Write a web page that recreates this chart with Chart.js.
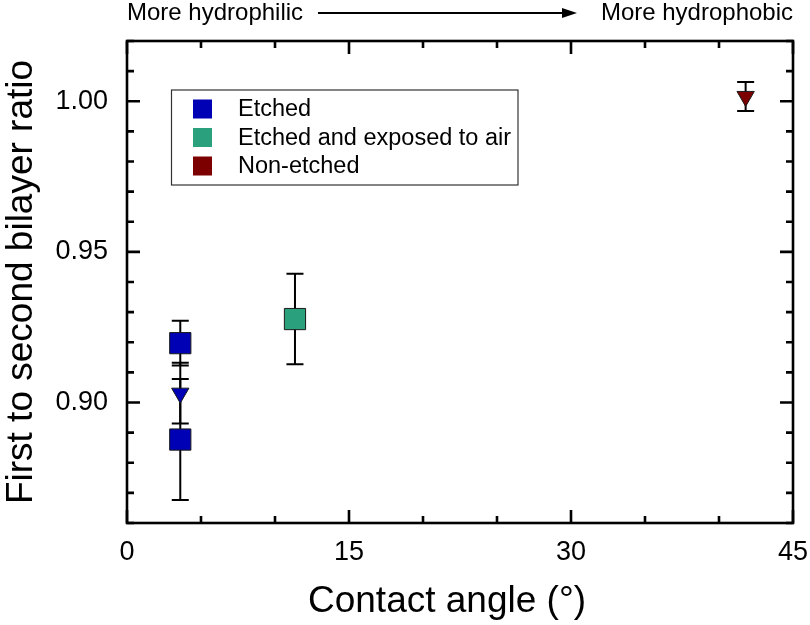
<!DOCTYPE html>
<html>
<head>
<meta charset="utf-8">
<script src="https://cdn.jsdelivr.net/npm/chart.js@4.4.0/dist/chart.umd.min.js"></script>
<style>
body{ margin:0; background:#fff; }
canvas{ display:block; }
</style>
</head>
<body>
<canvas id="ratioChart" width="810" height="625"></canvas>
<script>
// values
const etchedX = [3.6, 3.6];
const etchedY = [0.9197, 0.8877];
const etchedErr = [0.0074, 0.0201];

const etchedTriX = [3.6];
const etchedTriY = [0.9031];
const etchedTriErr = [0.0101];

const airX = [11.35];
const airY = [0.9277];
const airErr = [0.0150];

const nonEtchedX = [41.8];
const nonEtchedY = [1.0016];
const nonEtchedErr = [0.0048];

const legendLabels = ["Etched", "Etched and exposed to air", "Non-etched"];
const xTicks = [0, 15, 30, 45];
const yTicks = [0.90, 0.95, 1.00];

const BLUE = "#0000b4";
const GREEN = "#2ba07c";
const RED = "#7c0000";
const FONT = "'Liberation Sans', Arial, Helvetica, sans-serif";

function points(xs, ys){
    return xs.map((x, i) => ({x: x, y: ys[i]}));
}

const errorBars = {
    id: "errorBars",
    beforeDatasetsDraw(chart){
        const ctx = chart.ctx;
        const xs = chart.scales.x;
        const ys = chart.scales.y;
        ctx.save();
        ctx.strokeStyle = "#000";
        ctx.lineWidth = 2;
        chart.data.datasets.forEach(ds => {
            ds.data.forEach((p, i) => {
                const err = ds.errors[i];
                const px = xs.getPixelForValue(p.x);
                const top = ys.getPixelForValue(p.y + err);
                const bot = ys.getPixelForValue(p.y - err);
                ctx.beginPath();
                ctx.moveTo(px, top);
                ctx.lineTo(px, bot);
                ctx.moveTo(px - 8.5, top);
                ctx.lineTo(px + 8.5, top);
                ctx.moveTo(px - 8.5, bot);
                ctx.lineTo(px + 8.5, bot);
                ctx.stroke();
            });
        });
        ctx.restore();
    }
};

const frameAndTicks = {
    id: "frameAndTicks",
    afterDraw(chart){
        const ctx = chart.ctx;
        const a = chart.chartArea;
        const xs = chart.scales.x;
        const ys = chart.scales.y;
        ctx.save();
        ctx.strokeStyle = "#000";
        ctx.lineWidth = 2.6;

        ctx.beginPath();
        for(let v = xs.min; v <= xs.max + 1e-9; v += 5){
            const px = xs.getPixelForValue(v);
            const len = (Math.round(v) % 15 === 0) ? 13 : 7;
            ctx.moveTo(px, a.bottom);
            ctx.lineTo(px, a.bottom - len);
            ctx.moveTo(px, a.top);
            ctx.lineTo(px, a.top + len);
        }
        for(let k = 86; k <= 102; k++){
            const py = ys.getPixelForValue(k / 100);
            const len = (k % 5 === 0) ? 13 : 7;
            ctx.moveTo(a.left, py);
            ctx.lineTo(a.left + len, py);
            ctx.moveTo(a.right, py);
            ctx.lineTo(a.right - len, py);
        }
        ctx.stroke();

        ctx.strokeRect(a.left, a.top, a.right - a.left, a.bottom - a.top);

        ctx.fillStyle = "#000";

        // x axis title, sits a bit left of the plot centre in the original
        ctx.font = "37px " + FONT;
        ctx.textAlign = "center";
        ctx.textBaseline = "alphabetic";
        ctx.fillText("Contact angle (°)", 447, 612);

        // direction note above the plot
        ctx.font = "24px " + FONT;
        ctx.textAlign = "left";
        ctx.fillText("More hydrophilic", 127, 20);
        ctx.textAlign = "right";
        ctx.fillText("More hydrophobic", 793, 20);

        ctx.lineWidth = 2;
        ctx.beginPath();
        ctx.moveTo(318, 13);
        ctx.lineTo(565, 13);
        ctx.stroke();
        ctx.beginPath();
        ctx.moveTo(577, 13);
        ctx.lineTo(562, 8);
        ctx.lineTo(562, 18);
        ctx.closePath();
        ctx.fill();

        // legend
        ctx.lineWidth = 1.2;
        ctx.strokeStyle = "#333";
        ctx.strokeRect(171.5, 90, 346.5, 95);
        const colors = [BLUE, GREEN, RED];
        const rows = [109, 137.5, 166];
        ctx.font = "23.5px " + FONT;
        ctx.textAlign = "left";
        ctx.textBaseline = "middle";
        legendLabels.forEach((label, i) => {
            ctx.fillStyle = colors[i];
            ctx.fillRect(193, rows[i] - 9.5, 19, 19);
            ctx.fillStyle = "#000";
            ctx.fillText(label, 238, rows[i] + 1);
        });
        ctx.restore();
    }
};

const ctx = document.getElementById("ratioChart");

new Chart(ctx, {
    type: "scatter",
    data: {
        datasets: [
            {
                label: legendLabels[0],
                data: points(etchedX, etchedY),
                errors: etchedErr,
                pointStyle: "rect",
                pointRadius: 15,
                backgroundColor: BLUE,
                borderColor: "#1a1a1a",
                borderWidth: 1
            },
            {
                label: legendLabels[0],
                data: points(etchedTriX, etchedTriY),
                errors: etchedTriErr,
                pointStyle: "triangle",
                rotation: 180,
                pointRadius: 10,
                backgroundColor: BLUE,
                borderColor: "#1a1a1a",
                borderWidth: 1
            },
            {
                label: legendLabels[1],
                data: points(airX, airY),
                errors: airErr,
                pointStyle: "rect",
                pointRadius: 15,
                backgroundColor: GREEN,
                borderColor: "#1a1a1a",
                borderWidth: 1
            },
            {
                label: legendLabels[2],
                data: points(nonEtchedX, nonEtchedY),
                errors: nonEtchedErr,
                pointStyle: "triangle",
                rotation: 180,
                pointRadius: 10,
                backgroundColor: RED,
                borderColor: "#1a1a1a",
                borderWidth: 1
            }
        ]
    },
    options: {
        responsive: false,
        animation: false,
        devicePixelRatio: 1,
        layout: {
            padding: {top: 41, right: 17, left: 0, bottom: 0}
        },
        plugins: {
            legend: {display: false},
            tooltip: {enabled: false}
        },
        scales: {
            x: {
                type: "linear",
                min: 0,
                max: 45,
                afterBuildTicks: s => { s.ticks = xTicks.map(v => ({value: v})); },
                afterFit: s => {
                    s.height = 102;
                    s.paddingLeft = 0;
                    s.paddingRight = 0;
                },
                grid: {display: false, drawTicks: false},
                border: {display: false},
                ticks: {
                    color: "#000",
                    padding: 13,
                    maxRotation: 0,
                    font: {family: FONT, size: 27},
                    callback: v => v
                }
            },
            y: {
                type: "linear",
                min: 0.86,
                max: 1.02,
                afterBuildTicks: s => { s.ticks = yTicks.map(v => ({value: v})); },
                afterFit: s => {
                    s.width = 127;
                    s.paddingTop = 0;
                    s.paddingBottom = 0;
                },
                grid: {display: false, drawTicks: false},
                border: {display: false},
                ticks: {
                    color: "#000",
                    padding: 19,
                    font: {family: FONT, size: 27},
                    callback: v => v.toFixed(2)
                },
                title: {
                    display: true,
                    text: "First to second bilayer ratio",
                    color: "#000",
                    font: {family: FONT, size: 37},
                    padding: {top: 0, bottom: 0}
                }
            }
        }
    },
    plugins: [errorBars, frameAndTicks]
});
</script>
</body>
</html>
